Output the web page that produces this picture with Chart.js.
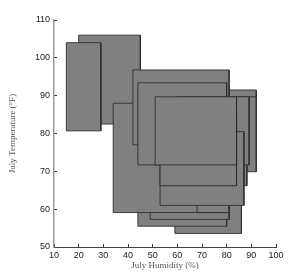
<!DOCTYPE html>
<html><head><meta charset="utf-8">
<script src="https://cdn.jsdelivr.net/npm/chart.js@4/dist/chart.umd.min.js"></script>
<style>html,body{margin:0;padding:0;background:#fff}#wrap{width:305px;height:277px;position:relative}</style>
</head><body><div id="wrap"><canvas id="c"></canvas></div>
<script>
// Rectangles in drawing order (first = bottom)
const humidityLow  = [20, 15, 59, 44, 49, 34, 68, 62, 42, 55, 44, 60,   60,   53, 53, 51];
const humidityHigh = [45, 29, 86, 80, 81, 81, 81, 92, 81, 92, 80, 88.2, 89.1, 87, 84, 84];
const tempLow      = [82.5, 80.7, 53.6, 55.5, 57.3, 59.1, 59.1, 74, 77, 69.9, 71.7, 66.2, 71.7, 61, 66.2, 71.7];
const tempHigh     = [106, 104, 75, 75, 75, 88, 70, 91.5, 96.8, 89.7, 93.4, 85, 89.7, 80.5, 85, 89.7];
const xTicks = [10, 20, 30, 40, 50, 60, 70, 80, 90, 100];
const yTicks = [50, 60, 70, 80, 90, 100, 110];

const n = humidityLow.length;
const datasets = humidityLow.map((lo, i) => ({
  data: [
    {x: lo, y: tempLow[i]},
    {x: lo, y: tempHigh[i]},
    {x: humidityHigh[i], y: tempHigh[i]},
    {x: humidityHigh[i], y: tempLow[i]},
    {x: lo, y: tempLow[i]}
  ],
  showLine: true,
  fill: 'shape',
  backgroundColor: '#808080',
  borderColor: 'rgba(45,45,45,0.9)',
  borderWidth: 1,
  pointRadius: 0,
  tension: 0,
  order: n - i
}));

new Chart(document.getElementById('c'), {
  type: 'scatter',
  data: {datasets},
  options: {
    responsive: true,
    maintainAspectRatio: false,
    animation: false,
    layout: {padding: {top: 20, right: 29, left: 0, bottom: 0}},
    plugins: {legend: {display: false}, tooltip: {enabled: false}},
    scales: {
      x: {
        type: 'linear', min: 10, max: 100,
        afterBuildTicks: s => { s.ticks = xTicks.map(v => ({value: v})); },
        afterFit: s => { s.height = 30; },
        grid: {drawOnChartArea: false, tickLength: -3, color: '#333'},
        border: {color: '#444', width: 1},
        ticks: {color: '#222', font: {family: 'Liberation Sans', size: 9}, padding: 6, maxRotation: 0, autoSkip: false},
        title: {display: true, text: 'July Humidity (%)', color: '#555', font: {family: 'Liberation Serif', size: 9}, padding: {top: 0, bottom: 6}}
      },
      y: {
        type: 'linear', min: 50, max: 110,
        afterBuildTicks: s => { s.ticks = yTicks.map(v => ({value: v})); },
        afterFit: s => { s.width = 54; },
        grid: {drawOnChartArea: false, tickLength: -3, color: '#333'},
        border: {color: '#999', width: 1.5},
        ticks: {color: '#222', font: {family: 'Liberation Sans', size: 9}, padding: 7, autoSkip: false},
        title: {display: true, text: 'July Temperature (°F)', color: '#555', font: {family: 'Liberation Serif', size: 9}, padding: {top: 7, bottom: 2}}
      }
    }
  }
});
</script>
</body></html>
